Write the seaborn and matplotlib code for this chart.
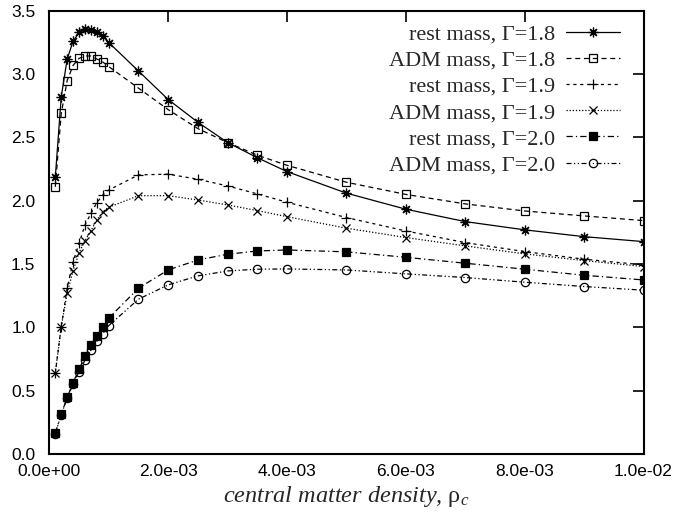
import numpy as np
import pandas as pd
import matplotlib
matplotlib.use("Agg")
import matplotlib.pyplot as plt
import seaborn as sns
from matplotlib.ticker import FuncFormatter, MultipleLocator

# central matter density (x values)
rho_early = [0.1e-3, 0.2e-3, 0.3e-3, 0.4e-3, 0.5e-3, 0.6e-3, 0.7e-3, 0.8e-3, 0.9e-3, 1.0e-3]
rho_late = [1.5e-3, 2.0e-3, 2.5e-3, 3.0e-3, 3.5e-3, 4.0e-3, 5.0e-3, 6.0e-3, 7.0e-3, 8.0e-3, 9.0e-3, 1.0e-2]
rho = rho_early + rho_late

rest_18 = [2.185, 2.82, 3.12, 3.26, 3.33, 3.357, 3.35, 3.33, 3.30, 3.25,
           3.025, 2.80, 2.62, 2.46, 2.34, 2.23, 2.06, 1.933, 1.835, 1.77, 1.716, 1.677]
adm_18 = [2.11, 2.69, 2.95, 3.07, 3.125, 3.144, 3.144, 3.12, 3.096, 3.06,
          2.89, 2.72, 2.57, 2.46, 2.36, 2.28, 2.146, 2.05, 1.975, 1.919, 1.88, 1.843]
rest_19 = [0.637, 1.005, 1.309, 1.519, 1.664, 1.809, 1.90, 1.985, 2.046, 2.085,
           2.204, 2.21, 2.17, 2.117, 2.054, 1.988, 1.867, 1.761, 1.669, 1.598, 1.538, 1.493]
adm_19 = [0.637, 1.005, 1.27, 1.448, 1.59, 1.685, 1.764, 1.848, 1.914, 1.949,
          2.04, 2.04, 2.006, 1.967, 1.922, 1.874, 1.783, 1.709, 1.643, 1.58, 1.527, 1.48]
rest_20 = [0.163, 0.313, 0.445, 0.563, 0.669, 0.769, 0.856, 0.934, 1.005, 1.072,
           1.309, 1.453, 1.532, 1.577, 1.603, 1.611, 1.596, 1.553, 1.506, 1.459, 1.411, 1.374]
adm_20 = [0.16, 0.31, 0.44, 0.55, 0.65, 0.74, 0.82, 0.89, 0.95, 1.013,
          1.222, 1.335, 1.406, 1.445, 1.459, 1.461, 1.453, 1.422, 1.393, 1.356, 1.322, 1.293]

labels = ["rest mass, Γ=1.8", "ADM mass, Γ=1.8", "rest mass, Γ=1.9",
          "ADM mass, Γ=1.9", "rest mass, Γ=2.0", "ADM mass, Γ=2.0"]
series = [rest_18, adm_18, rest_19, adm_19, rest_20, adm_20]

sns.set_theme(style="white")
plt.rcParams["font.family"] = ["Liberation Sans", "DejaVu Sans"]
plt.rcParams["mathtext.fontset"] = "custom"
plt.rcParams["mathtext.rm"] = "Liberation Serif"
plt.rcParams["mathtext.it"] = "Liberation Serif:italic"

fig = plt.figure(figsize=(6.76, 5.21), dpi=100)
ax = fig.add_axes([0.073, 0.129, 0.879, 0.85])

styles = [
    dict(linestyle="-", marker=(8, 2, 0), markersize=7, mfc="black", mec="black", mew=0.9),
    dict(linestyle=(0, (4, 3)), marker="s", markersize=6, mfc="none", mec="black", mew=0.9),
    dict(linestyle=(0, (2.5, 3)), marker="+", markersize=7, mfc="black", mec="black", mew=0.9),
    dict(linestyle=(0, (1, 1.5)), marker="x", markersize=6, mfc="black", mec="black", mew=0.9),
    dict(linestyle=(0, (5, 2.5, 1, 2.5)), marker="s", markersize=5.5, mfc="black", mec="black", mew=0.9),
    dict(linestyle=(0, (4, 2, 1, 2, 1, 2)), marker="o", markersize=6, mfc="none", mec="black", mew=0.9),
]

for lab, ys, st in zip(labels, series, styles):
    df = pd.DataFrame({"rho": rho, "mass": ys})
    sns.lineplot(data=df, x="rho", y="mass", ax=ax, color="black", linewidth=0.9,
                 label=lab, sort=False, **st)

ax.set_xlim(0, 1.0e-2)
ax.set_ylim(0, 3.5)
ax.xaxis.set_major_locator(MultipleLocator(2e-3))
ax.yaxis.set_major_locator(MultipleLocator(0.5))
ax.xaxis.set_major_formatter(FuncFormatter(lambda v, p: f"{v:.1e}"))
ax.yaxis.set_major_formatter(FuncFormatter(lambda v, p: f"{v:.1f}"))
ax.tick_params(direction="in", length=8, width=1.2, top=True, right=True,
               labelsize=12.5, colors="black")
ax.tick_params(axis="x", pad=7)
ax.tick_params(axis="y", pad=10)
for s in ax.spines.values():
    s.set_color("black")
    s.set_linewidth(1.5)

ax.set_xlabel(r"central matter density, $\mathrm{\rho}_{c}$", fontsize=17.5,
              family="Liberation Serif", style="italic", labelpad=4)
ax.set_ylabel("")

leg = ax.legend(loc="upper right", frameon=False, markerfirst=False,
                prop={"family": "Liberation Serif", "size": 16},
                handlelength=2.4, labelspacing=0.25, borderaxespad=0.0,
                handletextpad=0.5, bbox_to_anchor=(0.975, 0.99))

fig.savefig("out.png", dpi=100)
